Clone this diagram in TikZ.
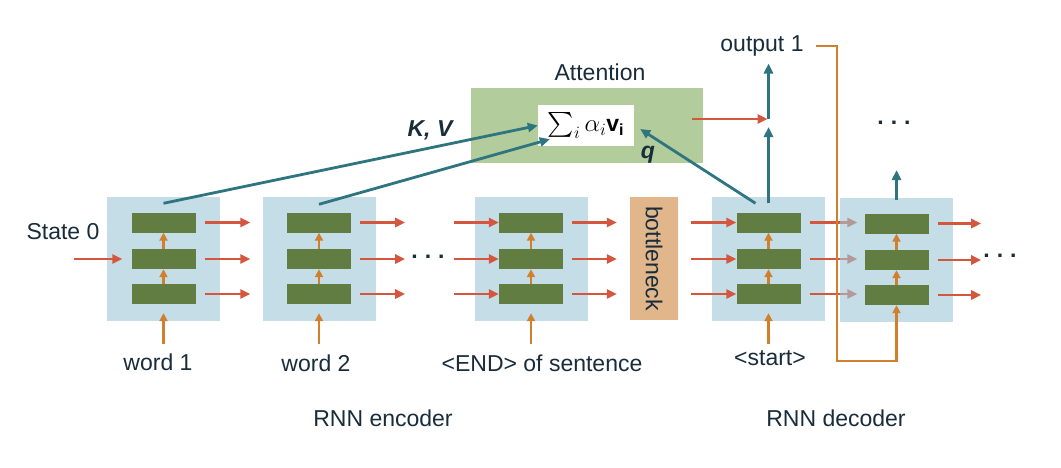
\documentclass[tikz,border=0pt]{standalone}
\usepackage{fontspec}
\setmainfont{Liberation Sans}
\usepackage{amsmath}
\usetikzlibrary{calc}
\usetikzlibrary{arrows.meta}

\definecolor{blockblue}{RGB}{197,221,230}
\definecolor{blockveil}{RGB}{158,198,213}
\definecolor{bargreen}{RGB}{98,125,66}
\definecolor{linkred}{RGB}{213,86,62}
\definecolor{feedorange}{RGB}{207,127,45}
\definecolor{attteal}{RGB}{46,117,128}
\definecolor{attgreen}{RGB}{179,204,155}
\definecolor{neckorange}{RGB}{224,182,138}
\definecolor{inkblue}{RGB}{24,44,58}

\pgfdeclarelayer{back}
\pgfdeclarelayer{veil}
\pgfsetlayers{back,veil,main}

\begin{document}
\begin{tikzpicture}[x=1pt,y=-1pt,
    txt/.style={text=inkblue,inner sep=2pt,font=\fontsize{23}{27}\selectfont},
    block/.style={fill=blockblue,minimum width=113pt,minimum height=124pt,inner sep=0pt},
    bar/.style={fill=bargreen,minimum width=64pt,minimum height=20pt,inner sep=0pt},
    neck/.style={fill=neckorange,minimum width=48pt,minimum height=123pt,inner sep=0pt},
    link/.style={draw=linkred,line width=2.8pt,-{Triangle[length=10pt,width=9pt]}},
    feed/.style={draw=feedorange,line width=2.6pt,-{Triangle[length=8pt,width=8pt]}},
    att/.style={draw=attteal,line width=2.8pt,-{Triangle[length=10pt,width=9pt]}},
    gap/.style={text=inkblue,inner sep=0pt,font=\fontsize{23}{27}\selectfont\bfseries}]
            \useasboundingbox (0,0) rectangle (1061,467);

            % recurrent blocks
            \begin{pgfonlayer}{back}
            \node[block] (E1) at (163.5,259) {};
            \node[block] (E2) at (319,259) {};
            \node[block] (E3) at (531,259) {};
            \node[block] (D1) at (768.5,259) {};
            \end{pgfonlayer}
            \begin{pgfonlayer}{veil}
            \node[block,fill=blockveil,fill opacity=0.6] (D2) at (896.5,260) {};
            \end{pgfonlayer}
            \node[neck,label={[txt,rotate=-90]center:bottleneck}] (N) at (654,258.5) {};

            \foreach \blk in {E1,E2,E3,D1,D2} {
                \node[bar] (\blk a) at ($(\blk)+(0,-36.5)$) {};
                \node[bar] (\blk b) at (\blk) {};
                \node[bar] (\blk c) at ($(\blk)+(0,35)$) {};
                \draw[feed] (\blk c.north) -- (\blk b.south);
                \draw[feed] (\blk b.north) -- (\blk a.south);
            }

            % gaps
            \node[gap] (gapE) at (428,257) {.\hspace{7pt}.\hspace{7pt}.};
            \node[gap] (gapD) at (1000,256) {.\hspace{7pt}.\hspace{7pt}.};
            \node[gap] (gapT) at (894,123) {.\hspace{7pt}.\hspace{7pt}.};

            % labels
            \node[txt] (S0) at (63,232) {State 0};
            \node[txt] (W1) at (158,362) {word 1};
            \node[txt] (W2) at (316,363) {word 2};
            \node[txt] (W3) at (542,363) {\textless END\textgreater{} of sentence};
            \node[txt] (W4) at (770,358) {\textless start\textgreater};
            \node[txt] (enc) at (383,418) {RNN encoder};
            \node[txt] (dec) at (836,418) {RNN decoder};

            % inputs
            \coordinate (S0in) at (74,259);
            \draw[link,shorten >=9pt] (S0in) -- (E1b.west);
            \foreach \blk in {E1,E2,E3,D1}
                \draw[feed,shorten >=9pt] (\blk c.south |- 0,344) -- (\blk c.south);

            % states
            \foreach \r in {a,b,c} {
                \draw[link,shorten <=9pt,shorten >=12pt] (E1\r.east) -- (E1\r.east -| E2.west);
                \draw[link,shorten <=9pt,shorten >=6pt] (E2\r.east) -- (E2\r.east -| gapE.west);
                \draw[link,shorten <=9pt] (E3\r.west -| gapE.east) -- (E3\r.west);
                \draw[link,shorten <=9pt,shorten >=13pt] (E3\r.east) -- (E3\r.east -| N.west);
                \draw[link,shorten <=13pt] (D1\r.west -| N.east) -- (D1\r.west);
                \draw[link,shorten <=9pt,shorten >=2pt] (D2\r.east) -- (D2\r.east -| gapD.west);
            }
            \begin{pgfonlayer}{back}
            \foreach \r in {a,b,c}
                \draw[link,shorten <=9pt,shorten >=7pt] (D1\r.east) -- (D1\r.east -| D2\r.west);
            \end{pgfonlayer}

            % attention
            \node[fill=attgreen,minimum width=232pt,minimum height=75pt,inner sep=0pt] (A) at (587,125.5) {};
            \node[txt] (Al) at (600,72) {Attention};
            \node[fill=white,minimum width=96pt,minimum height=41pt,inner sep=0pt,font=\fontsize{23}{27}\selectfont] (Sum) at (586,125.5) {$\sum_i \alpha_i \mathbf{v_i}$};
            \node[txt,font=\fontsize{23}{27}\selectfont\bfseries\itshape] (KV) at (430,130) {K, V};
            \node[txt,font=\fontsize{23}{27}\selectfont\bfseries\itshape] (Q) at (648,155) {q};

            \draw[att] ([yshift=9pt]E1a.north) -- (Sum.west);
            \draw[att] ([yshift=8pt]E2a.north) -- ([xshift=12pt,yshift=7pt]Sum.south west);
            \draw[att] ([xshift=-13pt,yshift=9pt]D1a.north) -- ([xshift=6pt,yshift=-3.5pt]Sum.east);

            % output
            \coordinate (mix) at (D1a.north |- 0,119);
            \node[txt] (out) at (762,46) {output 1};
            \draw[att,shorten >=8pt] ([yshift=9pt]D1a.north) -- (mix);
            \draw[link,shorten >=1pt] ([xshift=-11pt]A.east |- mix) -- (mix);
            \draw[att,shorten >=5pt] (mix) -- (mix |- out.south);
            \coordinate (loop) at (837,361);
            \draw[feed,line width=2.8pt,shorten <=10pt] (out.east) -| (loop) -| (D2c.south);
            \coordinate (nxt) at (D2a.north |- 0,170);
            \draw[att] ([yshift=13pt]D2a.north) -- (nxt);
        \end{tikzpicture}
\end{document}
